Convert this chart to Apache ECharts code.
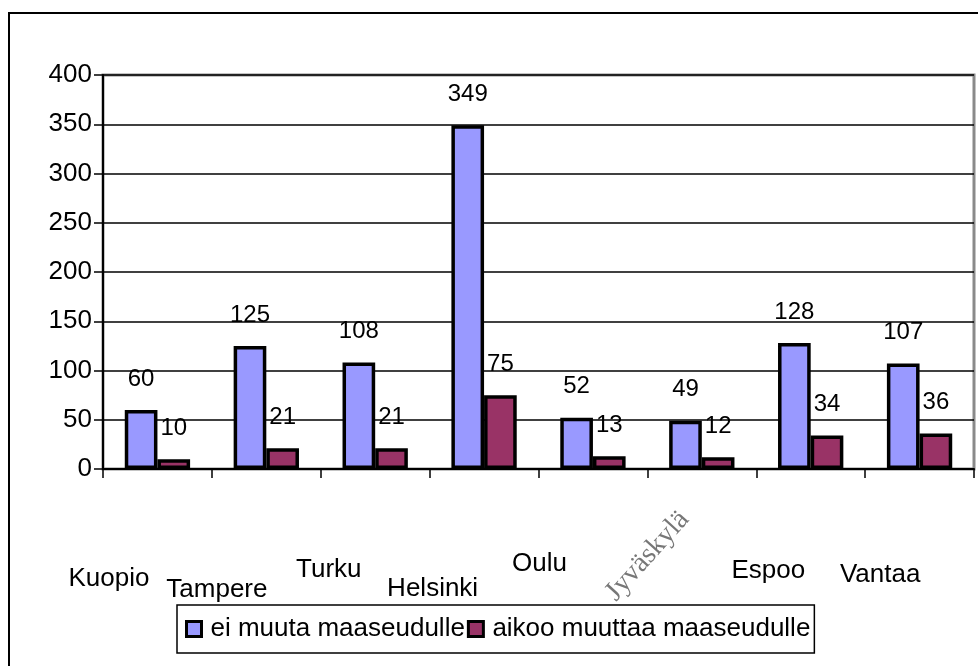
<!DOCTYPE html>
<html>
<head>
<meta charset="utf-8">
<script src="https://cdn.jsdelivr.net/npm/echarts@6/dist/echarts.min.js"></script>
<style>
  html, body { margin: 0; padding: 0; background: #fff; }
  #chart { width: 978px; height: 666px; }
</style>
</head>
<body>
<div id="chart"></div>
<script>
// data
const categories = ['Kuopio', 'Tampere', 'Turku', 'Helsinki', 'Oulu', 'Jyväskylä', 'Espoo', 'Vantaa'];
const stayValues = [60, 125, 108, 349, 52, 49, 128, 107];
const moveValues = [10, 21, 21, 75, 13, 12, 34, 36];
const seriesNames = ['ei muuta maaseudulle', 'aikoo muuttaa maaseudulle'];
const yTicks = [0, 50, 100, 150, 200, 250, 300, 350, 400];

// label placement (the original staggers the city names under the tick marks)
const labelShiftX = [6, 5, 8, 3, 1, 0, 12, 15];
const labelShiftY = [30, 52, 12, 50, 0, 0, 14, 22];
const rotatedIndex = 5;

const FONT = '"Liberation Sans", Arial, sans-serif';

const rich = {};
categories.forEach((c, i) => {
    const sx = labelShiftX[i];
    rich['c' + i] = {
        fontFamily: FONT,
        fontSize: 26,
        lineHeight: 30,
        color: '#000',
        padding: [labelShiftY[i], sx < 0 ? -2 * sx : 0, 0, sx > 0 ? 2 * sx : 0]
    };
});

const chart = echarts.init(document.getElementById('chart'), null, { renderer: 'canvas' });

const barLabel = {
    show: true,
    position: 'top',
    distance: 19,
    color: '#000',
    fontFamily: FONT,
    fontSize: 24
};

chart.setOption({
    backgroundColor: '#fff',
    animation: false,
    graphic: [{
        type: 'rect',
        shape: { x: 9, y: 13, width: 1000, height: 700 },
        style: { fill: 'none', stroke: '#000', lineWidth: 2 },
        silent: true
    }],
    legend: {
        left: 177,
        top: 605,
        orient: 'horizontal',
        padding: [11, 4, 11, 8],
        itemGap: 2,
        itemWidth: 15,
        itemHeight: 15,
        icon: 'rect',
        borderColor: '#000',
        borderWidth: 1.5,
        borderRadius: 0,
        itemStyle: { borderColor: '#000', borderWidth: 3 },
        textStyle: { fontFamily: FONT, fontSize: 26, color: '#000', padding: [0, 0, 0, 4] },
        data: seriesNames
    },
    grid: {
        left: 103,
        right: 4,
        top: 75,
        bottom: 197,
        show: true,
        borderColor: '#8a8a8a',
        borderWidth: 3,
        outerBoundsMode: 'none'
    },
    xAxis: [{
        type: 'category',
        data: categories,
        boundaryGap: true,
        axisLine: { lineStyle: { color: '#000', width: 2 } },
        axisTick: { show: true, length: 9, lineStyle: { color: '#000', width: 1.5 } },
        axisLabel: { show: false },
        splitLine: { show: false }
    }, {
        // city names sit on the tick marks, as in the original
        type: 'category',
        data: categories.concat(['']),
        boundaryGap: false,
        position: 'bottom',
        axisLine: { show: false },
        axisTick: { show: false },
        splitLine: { show: false },
        axisLabel: {
            interval: 0,
            margin: 80,
            verticalAlign: 'top',
            formatter: (value, idx) => (idx === rotatedIndex || value === '') ? '' : '{c' + idx + '|' + value + '}',
            rich: rich
        }
    }, {
        type: 'category',
        data: categories.concat(['']),
        boundaryGap: false,
        position: 'bottom',
        axisLine: { show: false },
        axisTick: { show: false },
        splitLine: { show: false },
        axisLabel: {
            interval: 0,
            margin: 87,
            rotate: 48,
            align: 'center',
            verticalAlign: 'middle',
            color: '#777',
            fontFamily: '"Liberation Serif", "Times New Roman", serif',
            fontSize: 28,
            formatter: (value, idx) => idx === rotatedIndex ? value : ''
        }
    }],
    yAxis: {
        type: 'value',
        min: yTicks[0],
        max: yTicks[yTicks.length - 1],
        interval: yTicks[1] - yTicks[0],
        axisLine: { show: true, lineStyle: { color: '#000', width: 2 } },
        axisTick: { show: true, length: 9, lineStyle: { color: '#000', width: 1.5 } },
        axisLabel: { margin: 11, color: '#000', fontFamily: FONT, fontSize: 26 },
        splitLine: { show: true, lineStyle: { color: '#000', width: 1.5 } }
    },
    series: [{
        name: seriesNames[0],
        type: 'bar',
        xAxisIndex: 0,
        data: stayValues,
        barGap: '0%',
        barCategoryGap: '40%',
        itemStyle: { color: '#9999ff', borderColor: '#000', borderWidth: 3.5 },
        label: barLabel
    }, {
        name: seriesNames[1],
        type: 'bar',
        xAxisIndex: 0,
        data: moveValues,
        itemStyle: { color: '#993366', borderColor: '#000', borderWidth: 3.5 },
        label: barLabel
    }]
});
</script>
</body>
</html>
